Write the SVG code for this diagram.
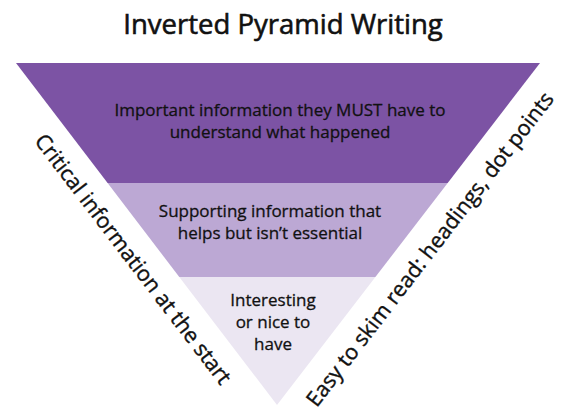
<svg xmlns="http://www.w3.org/2000/svg" width="565" height="419" viewBox="0 0 565 419">
  <style>
    text { font-family: "Open Sans", "Noto Sans", "DejaVu Sans", sans-serif; fill: #111111; stroke: #111111; stroke-width: 0.3px; text-anchor: middle; }
    .title { font-size: 27.5px; stroke-width: 0.6px; }
    .body { font-size: 17px; }
    .side { font-size: 21.5px; stroke-width: 0.4px; }
  </style>
  <rect width="565" height="419" fill="#ffffff"/>
  <text class="title" x="283" y="34">Inverted Pyramid Writing</text>
  <g id="band-critical">
    <polygon points="16,63 540,63 447.7,183 107.6,183" fill="#7c53a4"/>
    <text class="body" x="280" y="116">Important information they MUST have to</text>
    <text class="body" x="280" y="138">understand what happened</text>
  </g>
  <g id="band-supporting">
    <polygon points="107.6,183 447.7,183 375.4,277 179.3,277" fill="#bca8d4"/>
    <text class="body" x="270" y="217">Supporting information that</text>
    <text class="body" x="270" y="239">helps but isn’t essential</text>
  </g>
  <g id="band-nice">
    <polygon points="179.3,277 375.4,277 277,405" fill="#ebe6f2"/>
    <text class="body" x="273" y="306">Interesting</text>
    <text class="body" x="273" y="328">or nice to</text>
    <text class="body" x="273" y="350">have</text>
  </g>
  <g id="label-left">
    <text class="side" transform="translate(132,260) rotate(52.65)" y="6">Critical information at the start</text>
  </g>
  <g id="label-right">
    <text class="side" transform="translate(431,250) rotate(-52.4)" y="6">Easy to skim read: headings, dot points</text>
  </g>
</svg>
